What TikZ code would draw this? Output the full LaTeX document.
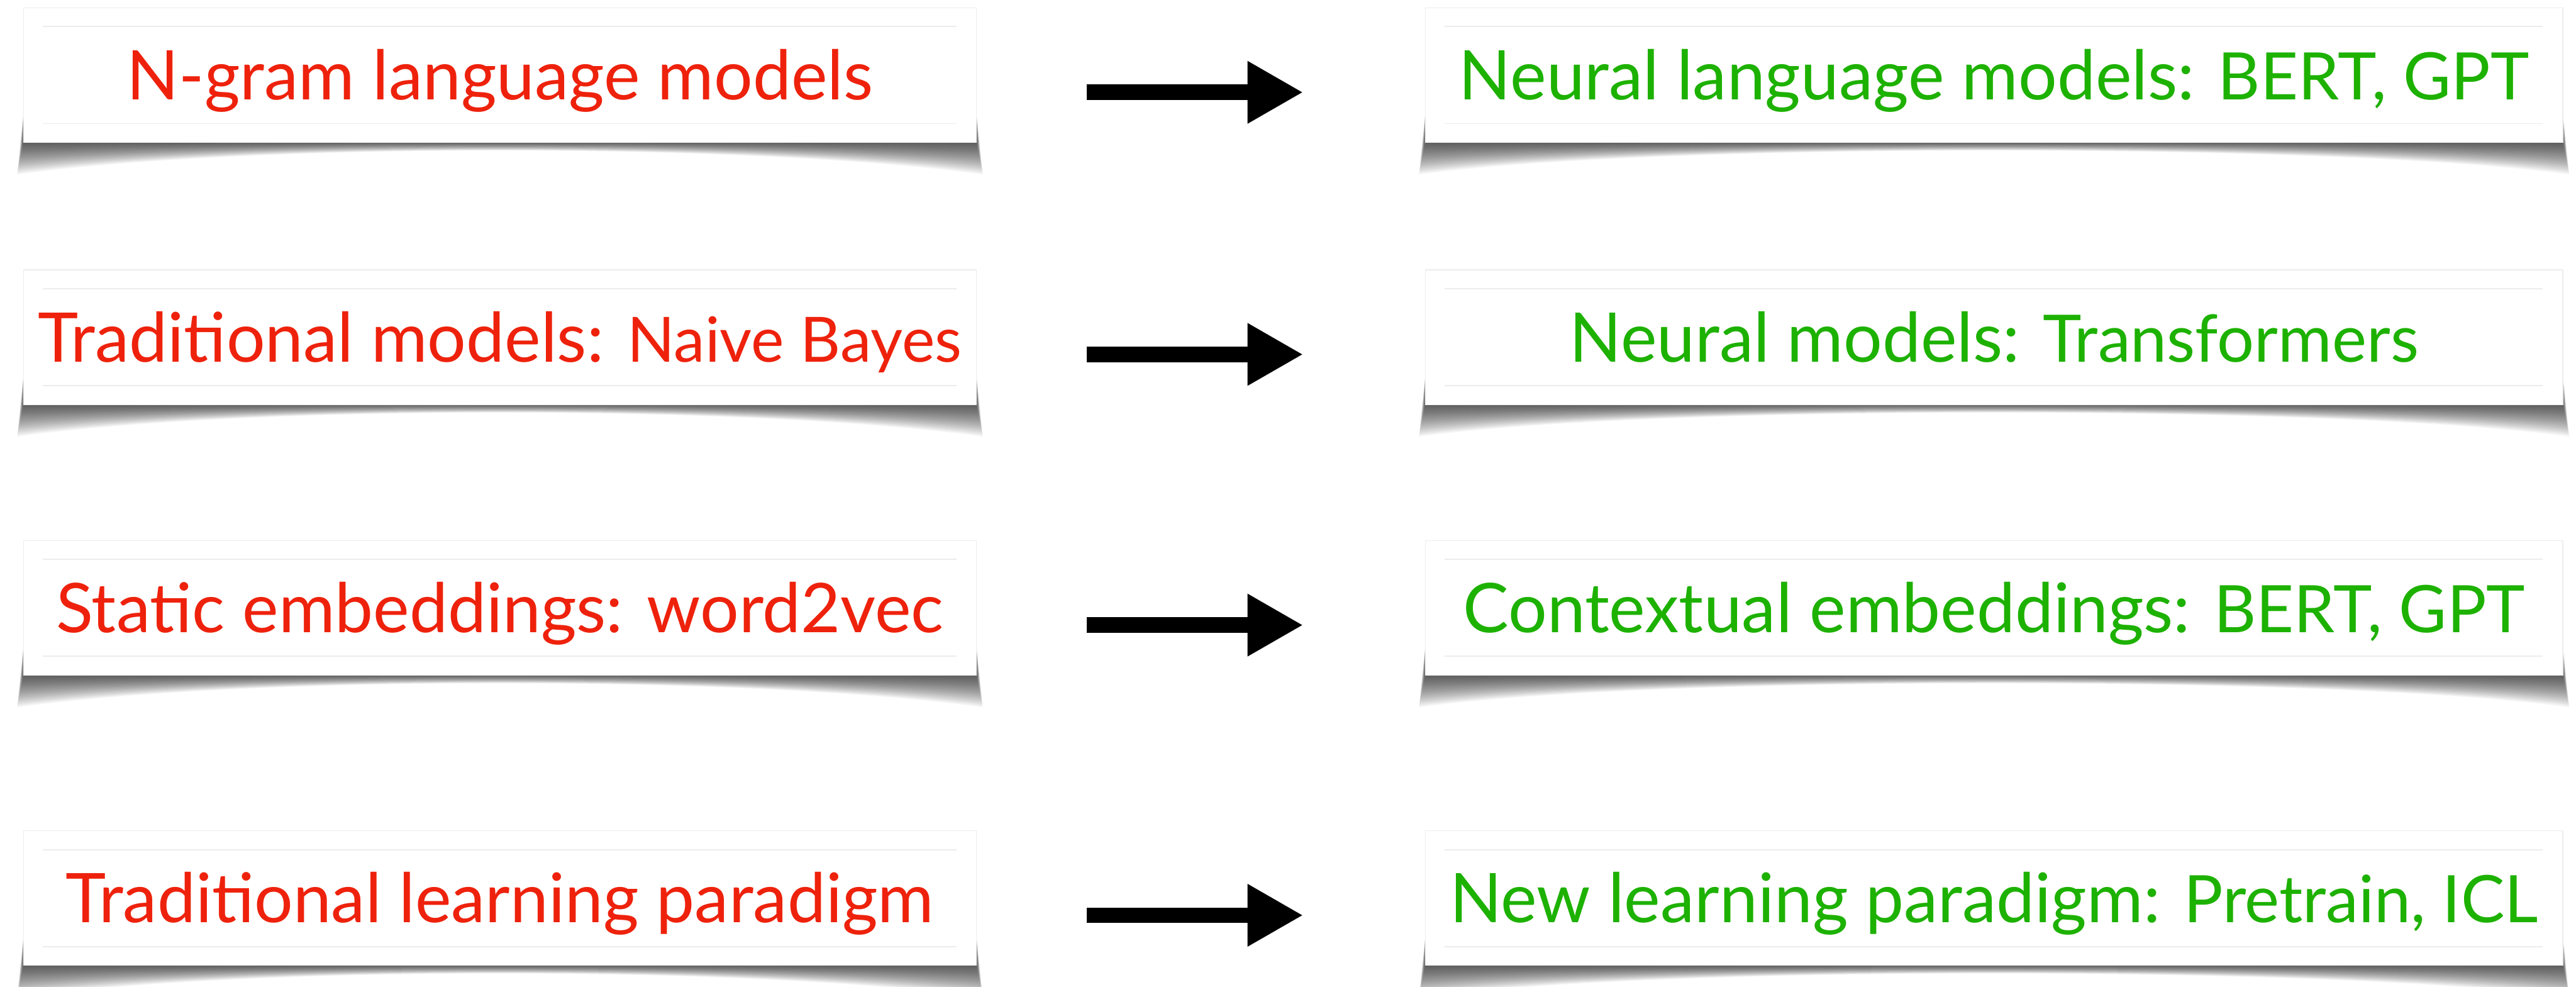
\documentclass[tikz,border=0pt]{standalone}
\usepackage{fontspec}
\setmainfont{Lato}
\usepackage{tikz}
\usetikzlibrary{arrows.meta,backgrounds}
\definecolor{oldred}{HTML}{EE220C}
\definecolor{newgreen}{HTML}{1DB100}
\definecolor{rulegray}{HTML}{ECECEC}
\newcommand{\smallpart}[1]{{\fontsize{32.5pt}{34pt}\selectfont #1}}
\newcommand{\smallerpart}[1]{{\fontsize{31pt}{34pt}\selectfont #1}}

\tikzset{
  card/.style={fill=white,draw=black!7,line width=0.4pt,outer sep=0pt,
    minimum height=2.35cm,inner sep=0pt,
    text height=0.86cm,text depth=0pt,
    font=\fontsize{34pt}{38pt}\selectfont,
    path picture={
      \draw[rulegray,line width=0.02cm]
        ([shift={(0.34,-0.33)}]path picture bounding box.north west) --
        ([shift={(-0.35,-0.33)}]path picture bounding box.north east);
      \draw[rulegray,line width=0.02cm]
        ([shift={(0.34,0.33)}]path picture bounding box.south west) --
        ([shift={(-0.35,0.33)}]path picture bounding box.south east);
    }},
  oldcard/.style={card,minimum width=16.62cm,text=oldred},
  newcard/.style={card,minimum width=19.84cm,text=newgreen},
  bigarrow/.style={line width=0.27cm,
    -{Triangle[length=0.97cm,width=1.02cm]}}
}

\begin{document}
\begin{tikzpicture}
\useasboundingbox (0,0) rectangle (44.93,17.20);
% language models
\node[oldcard] (l1) at (8.72,15.89) {N-gram language models};
\node[newcard] (r1) at (34.78,15.89) {Neural language models: \smallpart{BERT, GPT}};
\draw[bigarrow] ([xshift=1.92cm,yshift=-0.30cm]l1.east) -- ([xshift=-2.13cm,yshift=-0.30cm]r1.west);
% classifiers
\node[oldcard] (l2) at (8.72,11.32) {Traditional models: \smallerpart{Naive Bayes}};
\node[newcard] (r2) at (34.78,11.32) {Neural models: \smallpart{Transformers}};
\draw[bigarrow] ([xshift=1.92cm,yshift=-0.30cm]l2.east) -- ([xshift=-2.13cm,yshift=-0.30cm]r2.west);
% embeddings
\node[oldcard] (l3) at (8.72,6.60) {Static embeddings: word2vec};
\node[newcard] (r3) at (34.78,6.60) {Contextual embeddings: \smallpart{BERT, GPT}};
\draw[bigarrow] ([xshift=1.92cm,yshift=-0.30cm]l3.east) -- ([xshift=-2.13cm,yshift=-0.30cm]r3.west);
% learning
\node[oldcard] (l4) at (8.72,1.54) {Traditional learning paradigm};
\node[newcard] (r4) at (34.78,1.54) {New learning paradigm: \smallpart{Pretrain, ICL}};
\draw[bigarrow] ([xshift=1.92cm,yshift=-0.30cm]l4.east) -- ([xshift=-2.13cm,yshift=-0.30cm]r4.west);
% white page, then curled paper shadows under the cards
\begin{scope}[on background layer]
\fill[white] (0,0) rectangle (44.93,17.20);
\foreach \b in {l1,l2,l3,l4,r1,r2,r3,r4}
  \foreach \s in {0.02,0.04,...,0.57}
    \fill[black,opacity=0.03]
      ([shift={(0.05,1.0)}]\b.south west) --
      ([shift={(-0.2*\s,-\s)}]\b.south west)
      .. controls ([shift={(4,0)}]\b.south west) and ([shift={(-4,0)}]\b.south east) ..
      ([shift={(0.2*\s,-\s)}]\b.south east) --
      ([shift={(-0.05,1.0)}]\b.south east) -- cycle;
\end{scope}
\end{tikzpicture}
\end{document}
